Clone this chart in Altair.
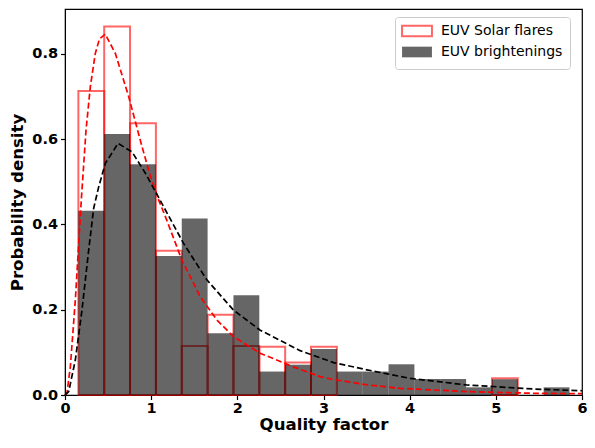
import altair as alt
import pandas as pd

# Histogram bins (shared edges)
bin_start = [0.155, 0.455, 0.755, 1.055, 1.355, 1.655, 1.955, 2.255, 2.555, 2.855,
             3.155, 3.455, 3.755, 4.055, 4.355, 4.655, 4.955, 5.255, 5.555]
bin_end = [0.455, 0.755, 1.055, 1.355, 1.655, 1.955, 2.255, 2.555, 2.855, 3.155,
           3.455, 3.755, 4.055, 4.355, 4.655, 4.955, 5.255, 5.555, 5.855]

# Probability densities
flares = [0.713, 0.864, 0.637, 0.338, 0.115, 0.188, 0.115, 0.113, 0.076, 0.113,
          0.0, 0.0, 0.0, 0.0, 0.0, 0.0, 0.039, 0.0, 0.0]
bright = [0.432, 0.612, 0.541, 0.326, 0.414, 0.145, 0.234, 0.055, 0.071, 0.108,
          0.055, 0.055, 0.072, 0.0375, 0.0375, 0.018, 0.037, 0.0, 0.018]

# Fitted curves
red_x = [0.0, 0.023, 0.062, 0.120, 0.19, 0.244, 0.294, 0.352, 0.40, 0.468, 0.584,
         0.740, 0.894, 0.987, 1.088, 1.181, 1.355, 1.568, 1.762, 1.955, 2.265,
         2.65, 2.96, 3.1, 3.5, 3.89, 4.665, 5.44, 6.0]
red_y = [0.0, 0.005, 0.066, 0.223, 0.46, 0.621, 0.723, 0.801, 0.835, 0.846, 0.801,
         0.699, 0.582, 0.516, 0.457, 0.410, 0.317, 0.231, 0.176, 0.137, 0.098,
         0.066, 0.043, 0.037, 0.024, 0.0156, 0.008, 0.004, 0.003]
blk_x = [0.0, 0.043, 0.120, 0.197, 0.275, 0.333, 0.391, 0.468, 0.616, 0.778, 0.933,
         0.987, 1.103, 1.374, 1.646, 1.955, 2.265, 2.729, 3.116, 3.504, 4.007,
         4.665, 5.439, 6.0]
blk_y = [0.0, 0.008, 0.082, 0.199, 0.340, 0.438, 0.488, 0.543, 0.590, 0.570, 0.520,
         0.500, 0.457, 0.356, 0.270, 0.199, 0.152, 0.104, 0.076, 0.059, 0.039,
         0.0235, 0.014, 0.010]

S1 = "EUV Solar flares"
S2 = "EUV brightenings"

df_f = pd.DataFrame({"x0": bin_start, "x1": bin_end, "y": flares, "series": S1})
df_f = df_f[df_f["y"] > 0]
df_b = pd.DataFrame({"x0": bin_start, "x1": bin_end, "y": bright, "series": S2})
df_b = df_b[df_b["y"] > 0]
df_r = pd.DataFrame({"x": red_x, "y": red_y})
df_k = pd.DataFrame({"x": blk_x, "y": blk_y})

xscale = alt.Scale(domain=[0, 6], nice=False)
yscale = alt.Scale(domain=[0, 0.905], nice=False)
xaxis = alt.Axis(values=[0, 1, 2, 3, 4, 5, 6], format="d", title="Quality factor")
yaxis = alt.Axis(values=[0, 0.2, 0.4, 0.6, 0.8], format=".1f", title="Probability density")

legend = alt.Legend(
    title=None, orient="none", legendX=330, legendY=8,
    symbolType="M-2.8,-1H2.8V1H-2.8Z", symbolSize=114, symbolStrokeWidth=2,
    labelFontSize=14, labelFont="DejaVu Sans", labelFontWeight="normal", labelColor="black",
    padding=7, fillColor="white", strokeColor="#cccccc", cornerRadius=3,
    rowPadding=1, symbolOffset=8, labelOffset=17,
)

fill_scale = alt.Scale(domain=[S1, S2], range=["rgba(255,255,255,0)", "rgba(0,0,0,0.6)"])
stroke_scale = alt.Scale(domain=[S1, S2], range=["rgba(255,0,0,0.6)", "rgba(0,0,0,0)"])

def bars(df):
    return alt.Chart(df).mark_bar(strokeWidth=2).encode(
        x=alt.X("x0:Q", scale=xscale, axis=xaxis),
        x2="x1:Q",
        y=alt.Y("y:Q", scale=yscale, axis=yaxis),
        y2=alt.datum(0),
        fill=alt.Fill("series:N", scale=fill_scale, legend=legend),
        stroke=alt.Stroke("series:N", scale=stroke_scale, legend=legend),
    )

red_line = alt.Chart(df_r).mark_line(color="red", strokeDash=[6, 3], strokeWidth=1.7).encode(
    x=alt.X("x:Q", scale=xscale), y=alt.Y("y:Q", scale=yscale))
blk_line = alt.Chart(df_k).mark_line(color="black", strokeDash=[6, 3], strokeWidth=1.7).encode(
    x=alt.X("x:Q", scale=xscale), y=alt.Y("y:Q", scale=yscale))

chart = alt.layer(bars(df_f), bars(df_b), red_line, blk_line).properties(
    width=517, height=386,
    autosize=alt.AutoSizeParams(type="none"),
    padding={"left": 57, "top": 1, "right": 5, "bottom": 40},
).configure_view(
    stroke="black", strokeWidth=1.2
).configure_axis(
    grid=False, labelFont="DejaVu Sans", titleFont="DejaVu Sans",
    labelFontWeight="bold", titleFontWeight="bold",
    labelFontSize=14.5, titleFontSize=16.6,
    labelColor="black", titleColor="black",
    tickColor="black", domainColor="black", tickSize=4.5, tickWidth=1.2,
    labelPadding=2, labelFlush=False, labelOverlap=False,
).configure_axisY(titlePadding=6, labelPadding=3).configure_axisX(titlePadding=1)

chart.save("out.html", embed_options={"renderer": "svg", "actions": False})
